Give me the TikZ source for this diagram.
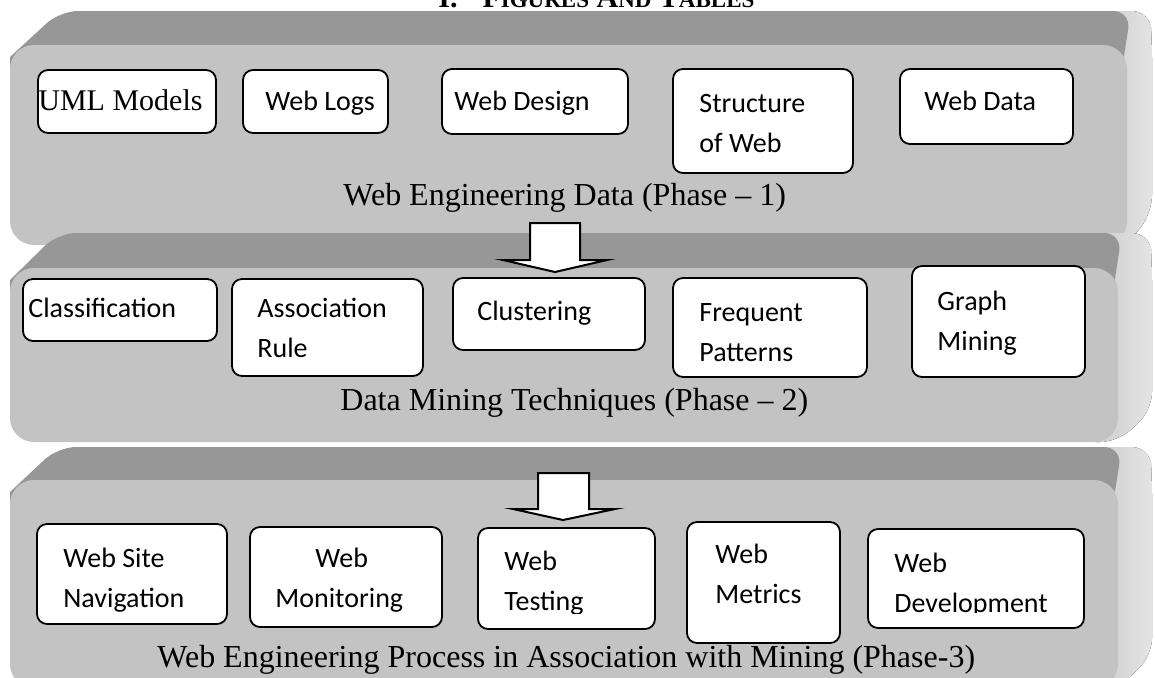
\documentclass[tikz,border=0pt]{standalone}
\usepackage{fontspec}
\setmainfont{Liberation Serif}
\newfontfamily\calibri{Carlito}
\usetikzlibrary{fit}
\definecolor{frontgray}{HTML}{C3C3C3}
\definecolor{topgray}{HTML}{979797}
\definecolor{sideL}{HTML}{C6C6C6}
\definecolor{sideR}{HTML}{E4E4E4}
% #1 back top y, #2 front top y, #3 front bottom y, #4 front right x, #5 back left x, #6 side right x
\newcommand\bevelpanel[6]{%
  \fill[left color=sideL, right color=sideR, rounded corners=9pt]
    ({#4-40},#1) -- ({#6-2},#1) -- (#6,{#1+32}) -- (#6,{#3-32}) -- (#4,#3) -- ({#4-40},#3) -- cycle;
  \fill[topgray]
    (10,{#2+30}) -- (10,{#2+12}) [rounded corners=9pt] -- (#5,#1) -- ({#4+4},#1) [sharp corners] -- ({#4-6},{#2+30}) -- cycle;
  \fill[frontgray, rounded corners=12pt] (10,#2) rectangle (#4,#3);
}
\newcommand\bx[5]{\node[boxframe, fit={(#2,#3) (#4,#5)}] (#1) {};}
\newcommand\twol[2]{\vtop{\hbox{#1}\hbox{#2}}}
\begin{document}
\begin{tikzpicture}[x=0.5pt,y=-0.5pt,
  boxframe/.style={draw=black, fill=white, line width=0.9pt, rounded corners=5pt, inner sep=0pt},
  btxt/.style={font=\calibri\fontsize{14}{20}\selectfont, inner sep=0pt, anchor=base west},
  stxt/.style={font=\fontsize{15}{18}\selectfont, inner sep=0pt, anchor=base west},
  lbl/.style={font=\fontsize{16}{20}\selectfont, inner sep=0pt, anchor=base west},
  blockarrow/.style={draw=black, fill=white, line width=1pt, line join=miter}]
\useasboundingbox (0,0) rectangle (1155,677);
\clip (0,0) rectangle (1155,677);

% header (cut by the top edge, as in the reference)
\node[anchor=base west, inner sep=0pt, font=\bfseries\fontsize{15}{15}\selectfont] (hdr) at (438,7)
  {I.\hspace{12.5pt}F{\fontsize{11.5}{11.5}\selectfont IGURES} A{\fontsize{11.5}{11.5}\selectfont ND} T{\fontsize{11.5}{11.5}\selectfont ABLES}};

% three bevelled panels
\bevelpanel{11}{45}{245}{1127}{60}{1152}
\bevelpanel{233}{268}{442}{1118}{58}{1152}
\bevelpanel{447}{480}{688}{1118}{58}{1152}

% Phase 1 boxes
\bx{uml}{38}{70}{216}{133}
\bx{logs}{243}{70}{388}{133}
\bx{design}{442}{69}{628}{134}
\bx{struct}{673}{69}{853}{173}
\bx{wdata}{900}{69}{1073}{144}
\node[stxt] (t-uml) at (38,110) {UML Models};
\node[btxt] (t-logs) at (265,110) {Web Logs};
\node[btxt] (t-design) at (454,110) {Web Design};
\node[btxt] (t-struct) at (699,112) {\twol{Structure}{of Web}};
\node[btxt] (t-wdata) at (924,110) {Web Data};
\node[lbl] (l1) at (343,205) {Web Engineering Data (Phase -- 1)};

% Phase 2 boxes
\bx{classif}{23}{279}{217}{341}
\bx{assoc}{232}{279}{423}{376}
\bx{clust}{453}{278}{645}{350}
\bx{freq}{673}{278}{867}{377}
\bx{graph}{912}{266}{1085}{377}
\node[btxt] (t-classif) at (28,317) {Classification};
\node[btxt] (t-assoc) at (257,317) {\twol{Association}{Rule}};
\node[btxt] (t-clust) at (477,320) {Clustering};
\node[btxt] (t-freq) at (699,321) {\twol{Frequent}{Patterns}};
\node[btxt] (t-graph) at (937,310) {\twol{Graph}{Mining}};
\node[lbl] (l2) at (340,410) {Data Mining Techniques (Phase -- 2)};

% Phase 3 boxes
\bx{nav}{37}{524}{227}{624}
\bx{mon}{250}{527}{442}{627}
\bx{test}{478}{528}{655}{629}
\bx{metrics}{687}{522}{840}{643}
\bx{dev}{868}{529}{1084}{628}
\node[btxt] (t-nav) at (63,567) {\twol{Web Site}{Navigation}};
\begin{scope}
  \clip (250,527) rectangle (442,612);
  \node[btxt] (t-mon) at (275,567) {\twol{\hspace{20pt}Web}{Monitoring}};
\end{scope}
\begin{scope}
  \clip (478,528) rectangle (655,613);
  \node[btxt] (t-test) at (504,570) {\twol{Web}{Testing}};
\end{scope}
\node[btxt] (t-metrics) at (715,563) {\twol{Web}{Metrics}};
\begin{scope}
  \clip (868,529) rectangle (1084,612);
  \node[btxt] (t-dev) at (894,572) {\twol{Web}{Development}};
\end{scope}
\begin{scope}
  \clip (0,600) rectangle (1155,673);
  \node[lbl] (l3) at (157,667) {Web Engineering Process in Association with Mining (Phase-3)};
\end{scope}

% block arrows between phases
\draw[blockarrow] (530,223) -- (580,223) -- (580,260) -- (607,260) -- (555,272) -- (503,260) -- (530,260) -- cycle;
\draw[blockarrow] (538,473) -- (589,473) -- (589,509) -- (615,509) -- (563,520) -- (513,509) -- (538,509) -- cycle;
\end{tikzpicture}
\end{document}
